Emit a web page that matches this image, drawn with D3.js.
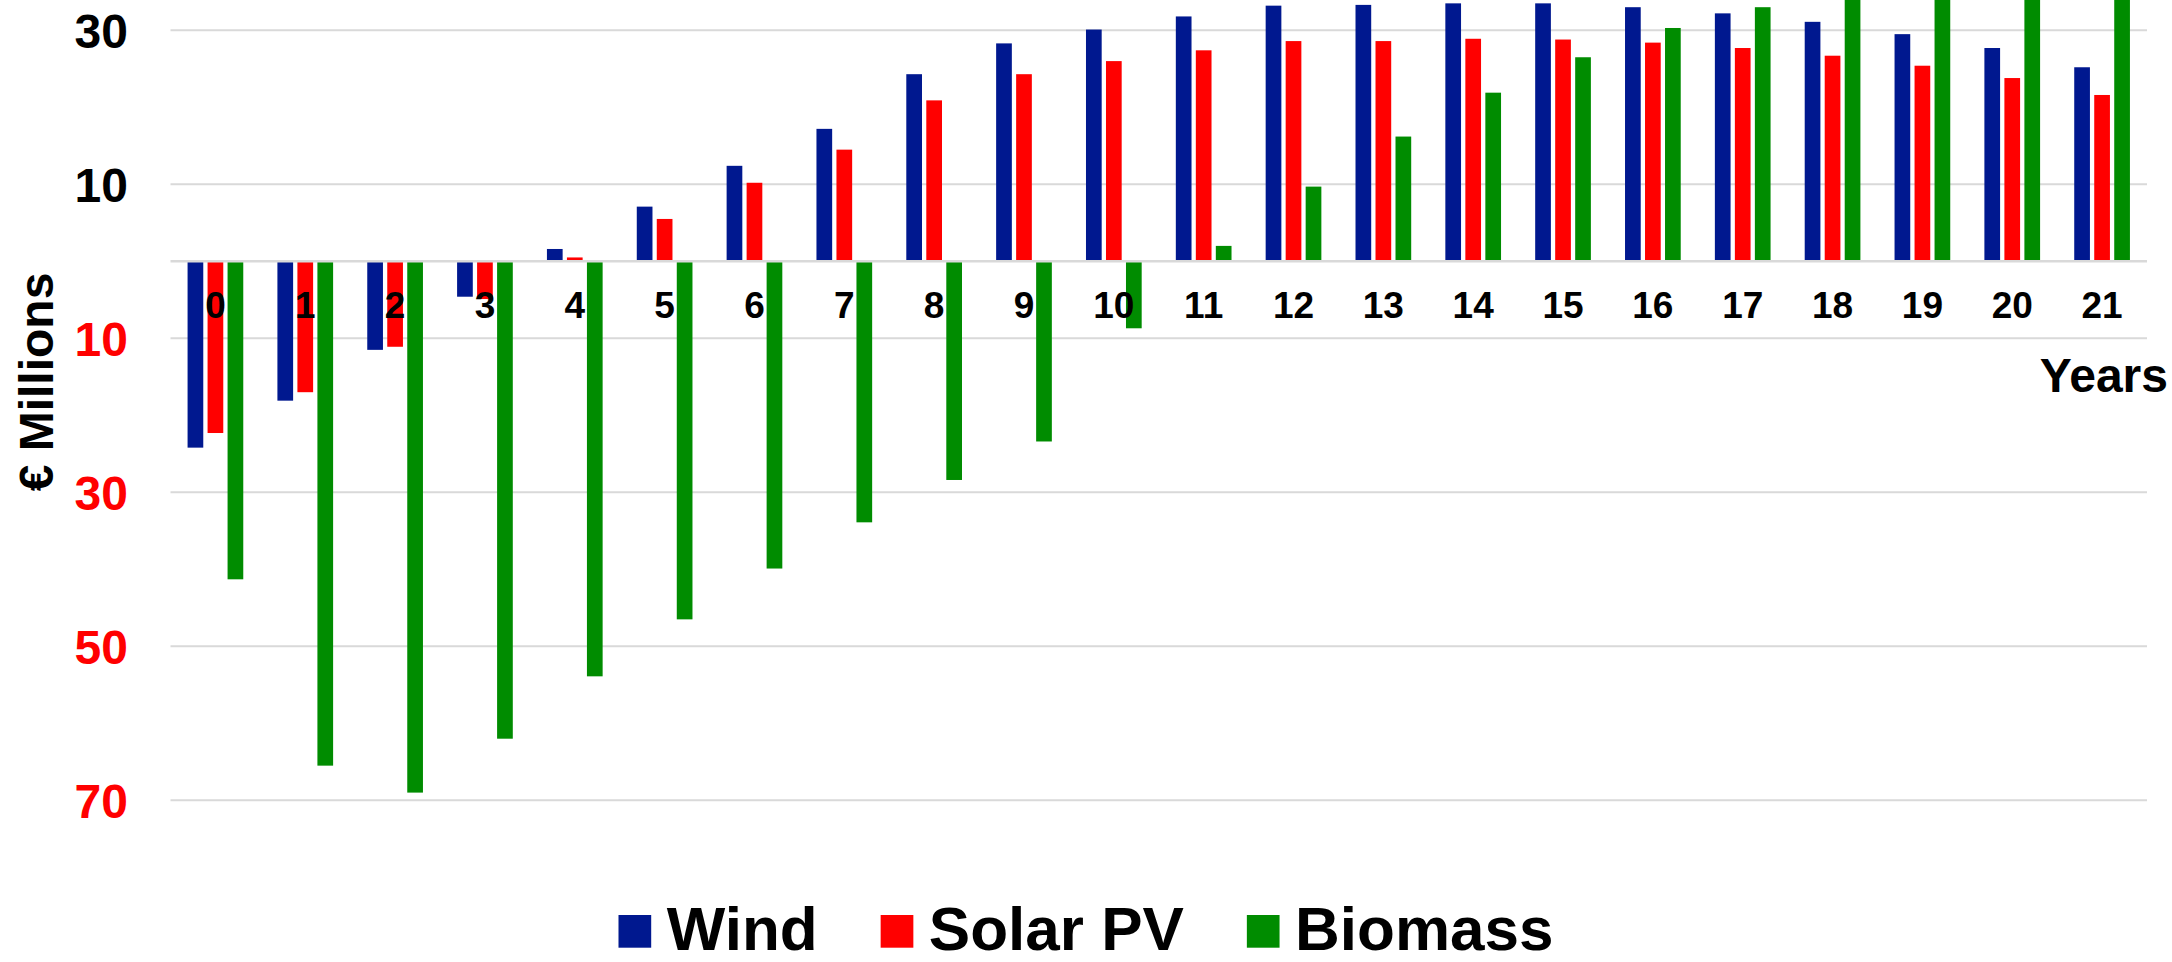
<!DOCTYPE html>
<html>
<head>
<meta charset="utf-8">
<script src="https://cdn.jsdelivr.net/npm/d3@7"></script>
<style>
  html, body { margin: 0; padding: 0; background: #fff; }
  svg { display: block; }
  text { font-family: "Liberation Sans", Arial, Helvetica, sans-serif; font-weight: bold; }
</style>
</head>
<body>
<svg id="chart" width="2172" height="962"></svg>
<script>
// ---- data ----
const years = ["0","1","2","3","4","5","6","7","8","9","10","11","12","13","14","15","16","17","18","19","20","21"];
const seriesNames = ["Wind", "Solar PV", "Biomass"];
const seriesColors = ["#00188F", "#FF0000", "#008C00"];
const wind    = [-24.2, -18.1, -11.5, -4.6, 1.6, 7.1, 12.4, 17.2, 24.3, 28.3, 30.1, 31.8, 33.2, 33.3, 33.5, 33.5, 33.0, 32.2, 31.1, 29.5, 27.7, 25.2];
const solarPV = [-22.3, -17.0, -11.1, -4.9, 0.5, 5.5, 10.2, 14.5, 20.9, 24.3, 26.0, 27.4, 28.6, 28.6, 28.9, 28.8, 28.4, 27.7, 26.7, 25.4, 23.8, 21.6];
const biomass = [-41.3, -65.5, -69.0, -62.0, -53.9, -46.5, -39.9, -33.9, -28.4, -23.4, -8.7, 2.0, 9.7, 16.2, 21.9, 26.5, 30.3, 33.0, 36.0, 38.0, 40.0, 42.0];
const yTicks = [30, 10, -10, -30, -50, -70];
const yTitle = "€ Millions";
const xTitle = "Years";

const seriesValues = [wind, solarPV, biomass];

// ---- layout ----
const W = 2172, H = 962;
const plotLeft = 170.5, plotRight = 2147, plotTop = 0;
const svg = d3.select("#chart");

const x0 = d3.scaleBand().domain(years).range([plotLeft, plotRight]).paddingInner(0).paddingOuter(0);
const x1 = d3.scaleBand().domain(seriesNames).range([-27.85, 27.85]).paddingInner(0.215).paddingOuter(0);
const y = d3.scaleLinear().domain([0, 30]).range([261.3, 30.3]);

// clip for plot area
svg.append("defs").append("clipPath").attr("id", "plotclip")
  .append("rect").attr("x", plotLeft).attr("y", plotTop).attr("width", plotRight - plotLeft).attr("height", 840);

// gridlines
svg.append("g").selectAll("line").data(yTicks).join("line")
  .attr("x1", plotLeft).attr("x2", plotRight)
  .attr("y1", d => y(d)).attr("y2", d => y(d))
  .attr("stroke", "#D9D9D9").attr("stroke-width", 2);

// bars
const barsG = svg.append("g").attr("clip-path", "url(#plotclip)");
seriesNames.forEach((name, si) => {
  barsG.append("g").selectAll("rect").data(seriesValues[si].map((v, i) => ({ v, year: years[i] })))
    .join("rect")
    .attr("x", d => x0(d.year) + x0.bandwidth() / 2 + x1(name))
    .attr("width", x1.bandwidth())
    .attr("y", d => y(Math.max(0, d.v)))
    .attr("height", d => Math.abs(y(d.v) - y(0)))
    .attr("fill", seriesColors[si]);
});

// zero line
svg.append("line")
  .attr("x1", plotLeft).attr("x2", plotRight)
  .attr("y1", y(0)).attr("y2", y(0))
  .attr("stroke", "#D9D9D9").attr("stroke-width", 2.5);

// y tick labels
svg.append("g").selectAll("text").data(yTicks).join("text")
  .attr("x", 128)
  .attr("y", d => y(d))
  .attr("dy", "0.36em")
  .attr("text-anchor", "end")
  .attr("font-size", 48)
  .attr("fill", d => d < 0 ? "#FF0000" : "#000000")
  .text(d => Math.abs(d));

// x tick labels
svg.append("g").selectAll("text").data(years).join("text")
  .attr("x", d => x0(d) + x0.bandwidth() / 2)
  .attr("y", 318.3)
  .attr("text-anchor", "middle")
  .attr("font-size", 37)
  .attr("fill", "#000")
  .text(d => d);

// axis titles
svg.append("text")
  .attr("transform", "translate(53,382) rotate(-90)")
  .attr("text-anchor", "middle")
  .attr("font-size", 48)
  .attr("fill", "#000")
  .text(yTitle);

svg.append("text")
  .attr("x", 2168).attr("y", 391.5)
  .attr("text-anchor", "end")
  .attr("font-size", 48)
  .attr("fill", "#000")
  .text(xTitle);

// legend
const legendG = svg.append("g");
const sq = 32.7, gapSqText = 15.5, gapItems = 63, legBaseline = 949.5, sqTop = 915;
let cx = 0;
seriesNames.forEach((name, i) => {
  const g = legendG.append("g");
  g.append("rect").attr("x", cx).attr("y", sqTop).attr("width", sq).attr("height", sq).attr("fill", seriesColors[i]);
  const t = g.append("text").attr("x", cx + sq + gapSqText).attr("y", legBaseline)
    .attr("font-size", 62).attr("fill", "#000").text(name);
  const tw = t.node().getComputedTextLength();
  cx += sq + gapSqText + tw + gapItems;
});
const totalW = cx - gapItems;
legendG.attr("transform", `translate(${(W - totalW) / 2},0)`);
</script>
</body>
</html>
